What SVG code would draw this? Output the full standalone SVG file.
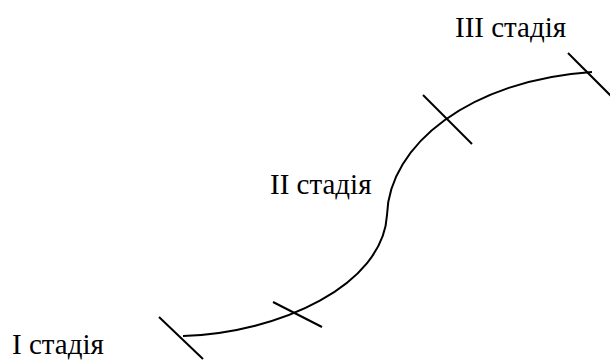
<svg xmlns="http://www.w3.org/2000/svg" width="610" height="360" viewBox="0 0 610 360">
<style>
.t{font-family:'Liberation Serif','Times New Roman',serif;font-size:29px;fill:#000}
.l{stroke:#000;stroke-width:2;fill:none}
</style>
<rect width="610" height="360" fill="#fff"/>
<g id="connectors">
<path id="curve" class="l" d="M183,336 C280,333 383,285 387,215 C389,145 470,80 592,72"/>
<line class="l" x1="159" y1="317" x2="203" y2="359"/>
<line class="l" x1="273" y1="302" x2="322" y2="327"/>
<line class="l" x1="423" y1="95" x2="472" y2="144"/>
<line class="l" x1="568" y1="53" x2="612" y2="97"/>
</g>
<g id="stage1"><text class="t" x="12" y="354">I стадія</text></g>
<g id="stage2"><text class="t" x="270" y="194">II стадія</text></g>
<g id="stage3"><text class="t" x="455" y="37">III стадія</text></g>
</svg>
